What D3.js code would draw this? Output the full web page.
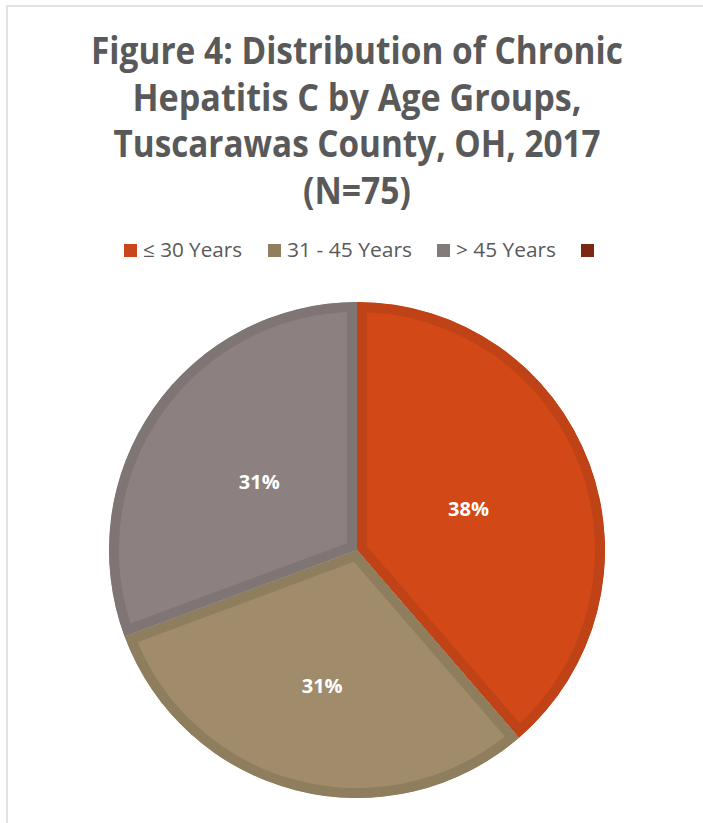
<!DOCTYPE html>
<html><head><meta charset="utf-8">
<script src="https://cdn.jsdelivr.net/npm/d3@7"></script>
<style>html,body{margin:0;padding:0;background:#fff;overflow:hidden}</style>
</head><body>
<svg id="c" width="703" height="823"></svg>
<script>
const titleLines = ["Figure 4: Distribution of Chronic", "Hepatitis C by Age Groups,", "Tuscarawas County, OH, 2017", "(N=75)"];
const categories = ["≤ 30 Years", "31 - 45 Years", "> 45 Years", ""];
const counts = [29, 23, 23];
const percentLabels = ["38%", "31%", "31%"];
const fillColors = ["#D24816", "#A08C6A", "#8C8080"];
const edgeColors = ["#BF4316", "#8E7E5E", "#807575"];
const legendColors = ["#C8461A", "#907E5C", "#857A7A", "#7A2811"];

const svg = d3.select("#c");
const font = "'Open Sans', 'DejaVu Sans', sans-serif";

// frame
svg.append("rect").attr("x", 7).attr("y", 6).attr("width", 900).attr("height", 900)
  .attr("fill", "none").attr("stroke", "#D9D9D9").attr("stroke-width", 1.5);

// title
const titleWidths = [532, 449, 487, 108];
const titleBase = [64, 111, 157, 204];
titleLines.forEach((t, i) => {
  svg.append("text").attr("x", 357).attr("y", titleBase[i]).attr("text-anchor", "middle")
    .attr("font-family", font).attr("font-weight", 700).attr("font-size", 37)
    .attr("fill", "#595959").attr("textLength", titleWidths[i]).attr("lengthAdjust", "spacingAndGlyphs")
    .text(t);
});

// legend
const legX = [124, 268, 437, 581];
const legTextW = [99, 125, 100, 0];
const leg = svg.append("g");
categories.forEach((c, i) => {
  leg.append("rect").attr("x", legX[i]).attr("y", 244).attr("width", 13).attr("height", 13)
    .attr("fill", legendColors[i]);
  if (c) {
    leg.append("text").attr("x", legX[i] + 19).attr("y", 257)
      .attr("font-family", font).attr("font-size", 20).attr("fill", "#595959")
      .attr("textLength", legTextW[i]).attr("lengthAdjust", "spacingAndGlyphs").text(c);
  }
});

// pie
const cx = 357, cy = 550, R = 248;
const pie = d3.pie().sort(null).value(d => d);
const arcs = pie(counts);
const arc = d3.arc().innerRadius(0).outerRadius(R);
const g = svg.append("g").attr("transform", `translate(${cx},${cy})`);
const defs = svg.append("defs");
arcs.forEach((a, i) => {
  defs.append("clipPath").attr("id", "clip" + i).append("path").attr("d", arc(a));
  g.append("path").attr("d", arc(a)).attr("fill", fillColors[i])
    .attr("stroke", edgeColors[i]).attr("stroke-width", 20).attr("stroke-linejoin", "miter")
    .attr("clip-path", `url(#clip${i})`);
});

const labelR = [119, 140, 119];
arcs.forEach((a, i) => {
  const m = (a.startAngle + a.endAngle) / 2;
  const x = Math.sin(m) * labelR[i], y = -Math.cos(m) * labelR[i];
  g.append("text").attr("x", x).attr("y", y).attr("dy", "0.36em").attr("text-anchor", "middle")
    .attr("font-family", font).attr("font-weight", 700).attr("font-size", 20)
    .attr("fill", "#fff").text(percentLabels[i]);
});
</script>
</body></html>
